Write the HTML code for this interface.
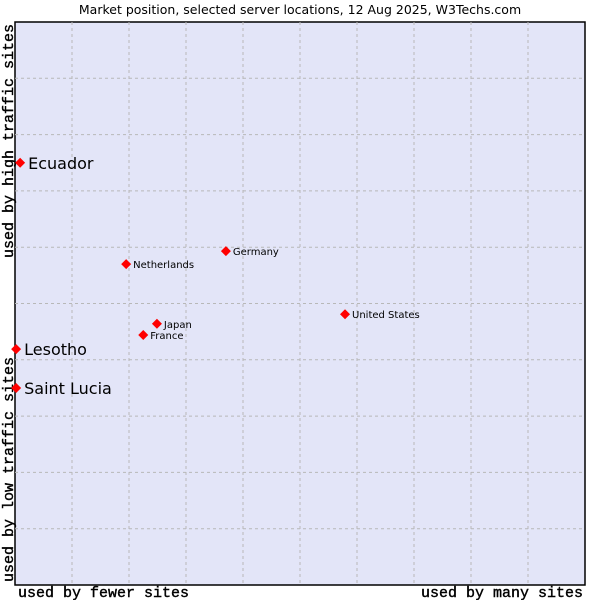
<!DOCTYPE html>
<html><head><meta charset="utf-8"><style>
body{margin:0;background:#fff;width:600px;height:600px;overflow:hidden}
svg text{fill:#000}
</style></head><body>
<svg width="600" height="600" id="c">
<text x="300" y="14" text-anchor="middle" font-family="DejaVu Sans, sans-serif" font-size="12.5" fill="#222">Market position, selected server locations, 12 Aug 2025, W3Techs.com</text>
<rect x="15" y="22" width="570" height="563" fill="#e3e5f8" stroke="#000" stroke-width="1.5"/>
<g id="grid"></g>
<g stroke="#000" stroke-width="0.4">
<text x="18" y="597" font-family="Liberation Mono, monospace" font-size="15">used by fewer sites</text>
<text x="583" y="597" text-anchor="end" font-family="Liberation Mono, monospace" font-size="15">used by many sites</text>
<text transform="translate(13,582) rotate(-90)" font-family="Liberation Mono, monospace" font-size="15">used by low traffic sites</text>
<text transform="translate(13,258) rotate(-90)" font-family="Liberation Mono, monospace" font-size="15">used by high traffic sites</text>
</g>
<g id="pts"></g>
</svg>
<script>
const names=["Ecuador","Lesotho","Saint Lucia","Netherlands","Germany","Japan","France","United States"];
const xVals=[0.9,0.2,0.2,19.5,37.0,24.9,22.5,57.9];
const yVals=[75.0,41.9,35.0,57.0,59.3,46.4,44.4,48.1];
const big=[true,true,true,false,false,false,false,false];
const gridTicks=[10,20,30,40,50,60,70,80,90];
const NS="http://www.w3.org/2000/svg";
const X=v=>15+v*5.7, Y=v=>585-v*5.63;
const g=document.getElementById('grid');
gridTicks.forEach(t=>{
 const a=document.createElementNS(NS,'line');
 
 
 a.setAttribute('x1',X(t));a.setAttribute('x2',X(t));a.setAttribute('y1',22);a.setAttribute('y2',585);
 a.setAttribute('stroke','#b8b8b8');a.setAttribute('stroke-dasharray','3,3');g.appendChild(a);
 const b=document.createElementNS(NS,'line');
 
 
 b.setAttribute('y1',Y(t));b.setAttribute('y2',Y(t));b.setAttribute('x1',15);b.setAttribute('x2',585);
 b.setAttribute('stroke','#b8b8b8');b.setAttribute('stroke-dasharray','3,3');g.appendChild(b);
});
const p=document.getElementById('pts');
names.forEach((n,i)=>{
 const x=X(xVals[i]),y=Y(yVals[i]);
 const d=document.createElementNS(NS,'polygon');
 
 
 d.setAttribute('points',`${x},${y-5} ${x+5},${y} ${x},${y+5} ${x-5},${y}`);
 d.setAttribute('fill','#f00');p.appendChild(d);
 const t=document.createElementNS(NS,'text');
 
 
 t.setAttribute('font-family','DejaVu Sans, sans-serif');
 if(big[i]){t.setAttribute('x',x+8);t.setAttribute('y',y+6);t.setAttribute('font-size','16');}
 else{t.setAttribute('x',x+7);t.setAttribute('y',y+4);t.setAttribute('font-size','10');}
 t.textContent=n;p.appendChild(t);
});
</script>
</body></html>
